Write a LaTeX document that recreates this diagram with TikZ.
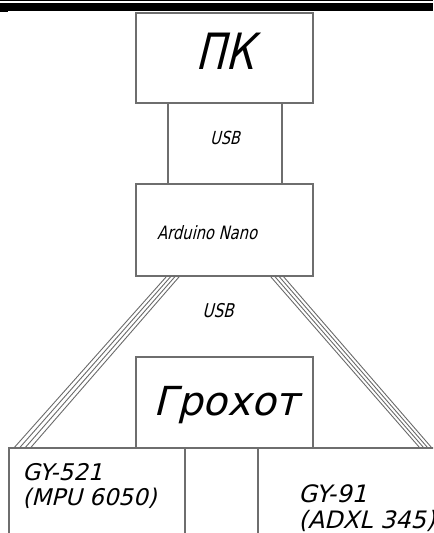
\documentclass[tikz,border=0pt]{standalone}
\usepackage{fontspec}
\usepackage{tikz}
\usetikzlibrary{calc}
\newfontfamily\gost{DejaVu Sans}[FakeSlant=0.25,FakeStretch=0.8]
\newfontfamily\gostw{DejaVu Sans}[FakeSlant=0.25]
\definecolor{frame}{HTML}{6E6E6E}
\definecolor{wirec}{HTML}{6A6A6A}

\begin{document}
\begin{tikzpicture}[x=0.5pt,y=-0.5pt,
  blk/.style={draw=frame,line width=0.6pt,inner sep=0pt},
  txt/.style={inner sep=0pt,font=\gost},
  cable/.style={draw=wirec,line width=0.45pt}]
\useasboundingbox (0,0) rectangle (433,533);
\clip (0,0) rectangle (433,533);

% --- sheet frame -------------------------------------------------------
\fill[black] (0,0) rectangle (433,1);
\fill[black] (0,3) rectangle (433,11);
\fill[black] (0,11) rectangle (8,12.5);

% --- upper chain -------------------------------------------------------
\node[blk,minimum width=88.5pt,minimum height=45pt] (pc) at (224.5,58) {};
\node[txt,anchor=base,font=\gost\fontsize{25}{25}\selectfont] (pct) at (225,70) {ПК};
\node[blk,minimum width=57pt,minimum height=40.5pt] (usb) at (225,143.5) {};
\node[txt,anchor=base,font=\gost\fontsize{9}{9}\selectfont] (usbt) at (225,145) {USB};
\node[blk,minimum width=88.5pt,minimum height=46pt] (ard) at (224.5,230) {};
\node[txt,anchor=base,font=\gost\fontsize{9.2}{9}\selectfont] (ardt) at (207,240) {Arduino Nano};

% --- lower block -------------------------------------------------------
\node[txt,anchor=base,font=\gost\fontsize{9.5}{9}\selectfont] (usbl) at (218,317) {USB};
\node[blk,minimum width=88.5pt,minimum height=45.5pt] (grohot) at (224.5,402.5) {};
\node[txt,anchor=base,font=\gostw\fontsize{20}{20}\selectfont] (grt) at (226,415) {Грохот};
\node[blk,minimum width=88pt,minimum height=46pt] (gyL) at (97,494) {};
\node[blk,minimum width=36.5pt,minimum height=46pt] (gyM) at (221.5,494) {};
\node[blk,minimum width=91pt,minimum height=46pt] (gyR) at (349,494) {};
\node[txt,anchor=base west,align=left,font=\gostw\fontsize{11.5}{12.5}\selectfont] (gyLt) at (22,505) {GY-521\\(MPU 6050)};
\node[txt,anchor=base west,align=left,font=\gostw\fontsize{12}{13}\selectfont] (gyRt) at (298,528) {GY-91\\(ADXL 345)};

% --- cables ------------------------------------------------------------
\foreach \k in {0,...,3}{
  \draw[cable] ($(ard.south west)+(31+4.3*\k,0)$) -- ($(gyL.north west)+(6+5.5*\k,0)$);
  \draw[cable] ($(ard.south east)+(-43+4.3*\k,0)$) -- ($(gyR.north west)+(162+4*\k,0)$);
}
\end{tikzpicture}
\end{document}
